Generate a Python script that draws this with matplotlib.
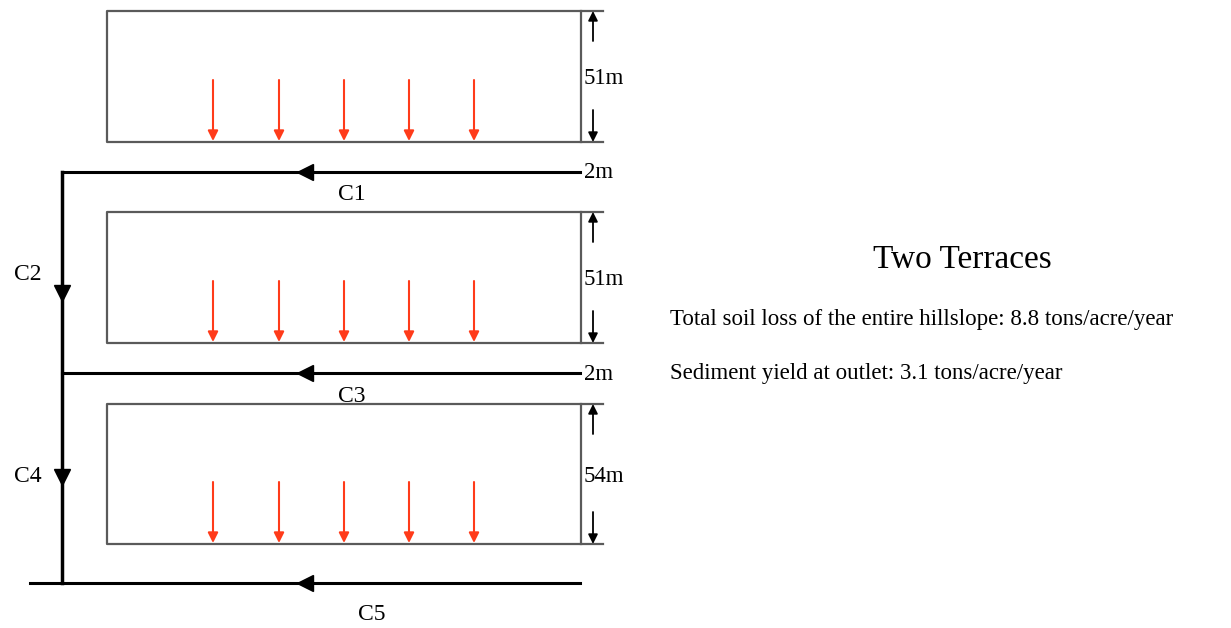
import matplotlib.pyplot as plt

plt.rcParams['font.family'] = ['Liberation Serif', 'DejaVu Serif']

# terrace boxes (top, bottom) in image pixels
box_left, box_right = 107, 581
box_tops = [11, 212, 404]
box_bottoms = [142, 343, 544]
box_heights = ['51m', '51m', '54m']
rain_x = [213, 279, 344, 409, 474]

# channels
chan_y = [172, 373, 583]
chan_names = ['C1', 'C3', 'C5']
chan_widths = ['2m', '2m', '']
side_names = ['C2', 'C4']
side_arrow_y = [293, 477]
side_label_y = [275, 477]

title = 'Two Terraces'
lines = ['Total soil loss of the entire hillslope: 8.8 tons/acre/year',
         'Sediment yield at outlet: 3.1 tons/acre/year']

fig = plt.figure(figsize=(12.31, 6.28), dpi=100)
ax = fig.add_axes([0, 0, 1, 1])
ax.set_xlim(0, 1231)
ax.set_ylim(628, 0)
ax.axis('off')

for top, bot, h in zip(box_tops, box_bottoms, box_heights):
    ax.plot([603, box_left, box_left, 603], [top, top, bot, bot],
            color='#5a5a5a', lw=1.6)
    ax.plot([box_right, box_right], [top, bot], color='#5a5a5a', lw=1.6)
    # rain arrows
    for x in rain_x:
        ax.annotate('', xy=(x, bot - 1), xytext=(x, bot - 62),
                    arrowprops=dict(arrowstyle='-|>', color='#ff3b1a', lw=1.5,
                                    mutation_scale=15, shrinkA=0, shrinkB=0))
    # dimension arrows
    ax.annotate('', xy=(593, top), xytext=(593, top + 30),
                arrowprops=dict(arrowstyle='-|>', color='black', lw=1.3,
                                mutation_scale=14, shrinkA=0, shrinkB=0))
    ax.annotate('', xy=(593, bot), xytext=(593, bot - 32),
                arrowprops=dict(arrowstyle='-|>', color='black', lw=1.3,
                                mutation_scale=14, shrinkA=0, shrinkB=0))
    ax.text(584, (top + bot) / 2 + 2, h, fontsize=16.5, ha='left', va='center')

# channels
for i, (y, name, w) in enumerate(zip(chan_y, chan_names, chan_widths)):
    x0 = 30 if i == len(chan_y) - 1 else 62
    ax.plot([x0, 580], [y, y], color='black', lw=2.2)
    ax.plot(305, y, marker='<', color='black', markersize=12)
    if w:
        ax.text(584, y + 1, w, fontsize=16.5, ha='left', va='center')
    lx = 372 if i == len(chan_y) - 1 else 352
    ly = y + 32 if i == len(chan_y) - 1 else y + 23
    ax.text(lx, ly, name, fontsize=17, ha='center', va='center')

ax.plot([62, 62], [chan_y[0], chan_y[-1]], color='black', lw=2.5)
for y, ly, name in zip(side_arrow_y, side_label_y, side_names):
    ax.plot(62, y, marker='v', color='black', markersize=12)
    ax.text(28, ly, name, fontsize=17, ha='center', va='center')

ax.text(962, 260, title, fontsize=24, ha='center', va='center')
ax.text(670, 319, lines[0], fontsize=16.5, ha='left', va='center')
ax.text(670, 373, lines[1], fontsize=16.5, ha='left', va='center')

fig.savefig('out.png', dpi=100)
